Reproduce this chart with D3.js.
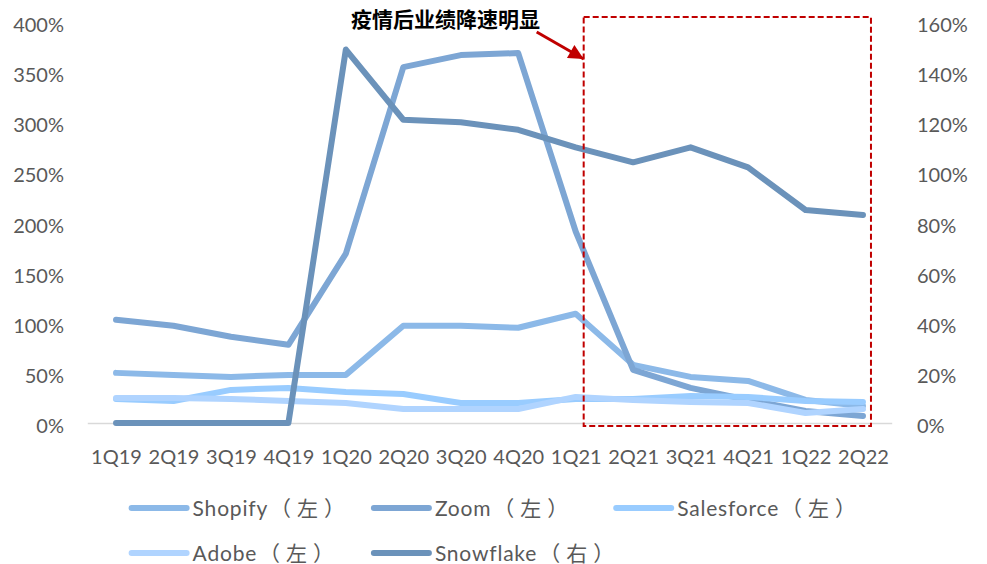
<!DOCTYPE html>
<html>
<head>
<meta charset="utf-8">
<script src="https://cdn.jsdelivr.net/npm/d3@7"></script>
<style>
  body { margin: 0; background: #fff; }
  svg { display: block; }
</style>
</head>
<body>
<script>
// quarters on the x axis
const quarters = ["1Q19", "2Q19", "3Q19", "4Q19", "1Q20", "2Q20", "3Q20", "4Q20",
                  "1Q21", "2Q21", "3Q21", "4Q21", "1Q22", "2Q22"];

// revenue growth, % (left axis)
const shopify    = [50, 48, 46, 48, 48, 97, 97, 95, 109, 58, 46, 42, 23, 17];
const zoom       = [103, 97, 86, 78, 169, 355, 367, 369, 191, 53, 35, 23, 12, 7];
const salesforce = [24, 22, 33, 35, 31, 29, 20, 20, 24, 24, 27, 26, 22, 21];
const adobe      = [25, 25, 24, 22, 20, 14, 14, 14, 26, 23, 21, 20, 10, 14];
// revenue growth, % (right axis)
const snowflake  = [0, 0, 0, 0, 149, 121, 120, 117, 110, 104, 110, 102, 85, 83];

const leftTicks  = [0, 50, 100, 150, 200, 250, 300, 350, 400];
const rightTicks = [0, 20, 40, 60, 80, 100, 120, 140, 160];

const seriesNames  = ["Shopify", "Zoom", "Salesforce", "Adobe", "Snowflake"];
const seriesSides  = ["（左）", "（左）", "（左）", "（左）", "（右）"];
const seriesColors = ["#8cb9e8", "#7da6d4", "#99ccff", "#b0d4ff", "#6b92ba"];

const noteText = "疫情后业绩降速明显";

const width = 987, height = 564;
const font = "Lato, 'Noto Sans CJK SC', sans-serif";
const textColor = "#595959";

let svg = d3.select("body").append("svg")
    .attr("width", width)
    .attr("height", height);

// scales
const x = d3.scalePoint()
    .domain(quarters)
    .range([87.3, 891.7])
    .padding(0.5);

const yLeft = d3.scaleLinear().domain([0, 400]).range([423, 22]);
const yRight = d3.scaleLinear().domain([0, 160]).range([423, 22]);

// left axis
let gl = svg.append("g")
    .attr("transform", "translate(64,0)")
    .call(d3.axisLeft(yLeft).tickValues(leftTicks).tickSize(0).tickPadding(0)
        .tickFormat(d => d + "%"));
gl.select(".domain").remove();
gl.selectAll("text")
    .attr("dy", "0.48em")
    .style("font-family", font).style("font-size", "20px").attr("fill", textColor);

// right axis
let gr = svg.append("g")
    .attr("transform", "translate(917,0)")
    .call(d3.axisRight(yRight).tickValues(rightTicks).tickSize(0).tickPadding(0)
        .tickFormat(d => d + "%"));
gr.select(".domain").remove();
gr.selectAll("text")
    .attr("dy", "0.48em")
    .style("font-family", font).style("font-size", "20px").attr("fill", textColor);

// bottom axis
let gx = svg.append("g")
    .attr("transform", "translate(0," + yLeft(0) + ")")
    .call(d3.axisBottom(x).tickSize(0).tickSizeOuter(0).tickPadding(27));
gx.select(".domain").attr("stroke", "#d9d9d9").attr("stroke-width", 1.5);
gx.selectAll("text")
    .style("font-family", font).style("font-size", "20px").attr("fill", textColor);

// lines
const leftSeries = [shopify, zoom, salesforce, adobe];
const lineLeft = d3.line().x((d, i) => x(quarters[i])).y(d => yLeft(d));
const lineRight = d3.line().x((d, i) => x(quarters[i])).y(d => yRight(d));

let lines = svg.append("g").attr("id", "lines");
leftSeries.forEach(function(s, k) {
    lines.append("path")
        .attr("d", lineLeft(s))
        .attr("fill", "none")
        .attr("stroke", seriesColors[k])
        .attr("stroke-width", 6)
        .attr("stroke-linecap", "round")
        .attr("stroke-linejoin", "round");
});
lines.append("path")
    .attr("d", lineRight(snowflake))
    .attr("fill", "none")
    .attr("stroke", seriesColors[4])
    .attr("stroke-width", 6)
    .attr("stroke-linecap", "round")
    .attr("stroke-linejoin", "round");

// red dashed box around the post-pandemic quarters
const boxLeft = x("1Q21") + 8, boxRight = x("2Q22") + 8;
svg.append("rect")
    .attr("x", boxLeft)
    .attr("y", yLeft(400) - 5)
    .attr("width", boxRight - boxLeft)
    .attr("height", yLeft(0) + 3 - (yLeft(400) - 5))
    .attr("fill", "none")
    .attr("stroke", "#c00000")
    .attr("stroke-width", 2)
    .attr("stroke-dasharray", "6,3");

// arrow + note
svg.append("defs").append("marker")
    .attr("id", "head")
    .attr("viewBox", "0 0 10 10")
    .attr("refX", 10).attr("refY", 5)
    .attr("markerWidth", 5.5).attr("markerHeight", 5)
    .attr("markerUnits", "strokeWidth")
    .attr("orient", "auto")
  .append("path")
    .attr("d", "M0,0L10,5L0,10Z")
    .attr("fill", "#c00000");

svg.append("line")
    .attr("x1", boxLeft - 47).attr("y1", 32)
    .attr("x2", boxLeft).attr("y2", 59)
    .attr("stroke", "#c00000")
    .attr("stroke-width", 3)
    .attr("marker-end", "url(#head)");

svg.append("text")
    .attr("x", 351).attr("y", 27)
    .text(noteText)
    .style("font-family", "'Noto Sans CJK SC', sans-serif")
    .style("font-size", "21px")
    .style("font-weight", 700)
    .attr("fill", "#000");

// legend
let legend = svg.append("g").attr("id", "legend");
seriesNames.forEach(function(name, i) {
    const lx = 131.6 + (i % 3) * 242.3;
    const ly = 508 + Math.floor(i / 3) * 45;
    legend.append("line")
        .attr("x1", lx).attr("x2", lx + 55)
        .attr("y1", ly).attr("y2", ly)
        .attr("stroke", seriesColors[i])
        .attr("stroke-width", 6)
        .attr("stroke-linecap", "round");
    let t = legend.append("text")
        .attr("x", lx + 61).attr("y", ly + 8)
        .style("font-family", font)
        .style("font-size", "21px")
        .attr("fill", textColor);
    t.append("tspan").text(name).style("letter-spacing", "0.8px");
    t.append("tspan").attr("dx", 2).text(seriesSides[i]).style("letter-spacing", "6px");
});
</script>
</body>
</html>
